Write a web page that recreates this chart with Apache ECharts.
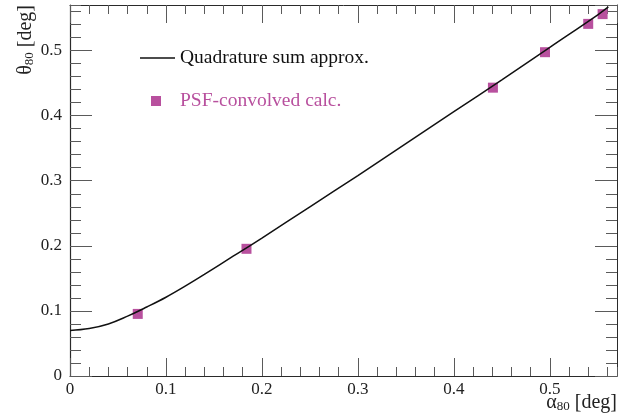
<!DOCTYPE html>
<html>
<head>
<meta charset="utf-8">
<script src="https://cdn.jsdelivr.net/npm/echarts@6/dist/echarts.min.js"></script>
<style>
  html, body { margin: 0; padding: 0; background: #fff; }
  #chart { width: 633px; height: 418px; }
</style>
</head>
<body>
<div id="chart"></div>
<script>
// Quadrature-sum approximation curve (alpha_80 -> theta_80, degrees)
const approxAlpha = [0, 0.02, 0.04, 0.06, 0.08, 0.10, 0.12, 0.14, 0.17, 0.20, 0.25, 0.30, 0.35, 0.40, 0.45, 0.50, 0.55, 0.561];
const approxTheta = [0.070, 0.073, 0.080, 0.092, 0.106, 0.121, 0.138, 0.156, 0.184, 0.212, 0.260, 0.308, 0.357, 0.406, 0.455, 0.505, 0.555, 0.567];

// PSF-convolved calculation points
const calcAlpha = [0.0706, 0.1839, 0.4407, 0.4950, 0.5400, 0.5550];
const calcTheta = [0.0954, 0.1954, 0.4430, 0.4975, 0.5410, 0.5560];

// Axis ranges and tick spacing
const axisMax = 0.57;
const majorStep = 0.1;
const minorStep = 0.02;

const seriesNames = ['Quadrature sum approx.', 'PSF-convolved calc.'];

const FONT = 'Liberation Serif';
const FRAME = '#2a2a2a';
const TICK = '#5a5a5a';
const PINK = '#b8509e';

function fmt(v) { return v === 0 ? '0' : v.toFixed(1); }

function axis(position, step, tickLen, opts) {
  return Object.assign({
    type: 'value',
    position: position,
    offset: 0,
    min: 0,
    max: axisMax,
    interval: step,
    axisLine: { show: false, onZero: false, lineStyle: { color: FRAME, width: 1 } },
    axisTick: { show: true, inside: true, length: tickLen, lineStyle: { color: TICK, width: 1 } },
    axisLabel: { show: false },
    splitLine: { show: false },
    minorTick: { show: false },
    axisPointer: { show: false }
  }, opts || {});
}

const labelStyle = {
  show: true,
  fontFamily: FONT,
  fontSize: 17,
  color: '#222',
  formatter: fmt,
  showMaxLabel: false
};

const nameRich = {
  g: { fontFamily: FONT, fontSize: 20, color: '#222' },
  s: { fontFamily: FONT, fontSize: 13, color: '#222', verticalAlign: 'bottom' }
};

const chart = echarts.init(document.getElementById('chart'), null, { renderer: 'canvas' });

chart.setOption({
  animation: false,
  backgroundColor: '#fff',
  grid: { left: 70, right: 16, top: 5, bottom: 42, containLabel: false },
  xAxis: [
    axis('bottom', majorStep, 18, {
      axisLine: { show: true, onZero: false, lineStyle: { color: FRAME, width: 1.2 } },
      axisLabel: Object.assign({ margin: 5 }, labelStyle),
      name: '{g|α}{s|80}{g| [deg]}',
      nameLocation: 'end',
      nameGap: 0,
      nameMoveOverlap: false,
      nameTextStyle: { align: 'right', verticalAlign: 'top', padding: [17, 0, 0, 0], rich: nameRich }
    }),
    axis('bottom', minorStep, 9),
    axis('top', majorStep, 18, { axisLine: { show: true, onZero: false, lineStyle: { color: FRAME, width: 1 } } }),
    axis('top', minorStep, 9)
  ],
  yAxis: [
    axis('left', majorStep, 22, {
      axisLine: { show: true, onZero: false, lineStyle: { color: FRAME, width: 1.2 } },
      axisLabel: Object.assign({ margin: 8 }, labelStyle),
      name: '{g|θ}{s|80}{g| [deg]}',
      nameLocation: 'end',
      nameGap: 0,
      nameRotate: 90,
      nameMoveOverlap: false,
      nameTextStyle: { align: 'right', verticalAlign: 'bottom', padding: [0, 0, 34, 0], rich: nameRich }
    }),
    axis('left', minorStep, 11),
    axis('right', majorStep, 22, { axisLine: { show: true, onZero: false, lineStyle: { color: FRAME, width: 1 } } }),
    axis('right', minorStep, 11)
  ],
  legend: [
    {
      left: 140, top: 48, padding: 0,
      itemWidth: 35, itemHeight: 10,
      symbolKeepAspect: true,
      selectedMode: false,
      icon: 'path://M0,0H35V1.5H0Z',
      textStyle: { fontFamily: FONT, fontSize: 19.5 },
      data: [{ name: seriesNames[0], textStyle: { color: '#111' } }]
    },
    {
      left: 151, top: 91, padding: 0,
      itemWidth: 10, itemHeight: 10,
      selectedMode: false,
      icon: 'rect',
      textStyle: { fontFamily: FONT, fontSize: 19.5, padding: [0, 0, 0, 14] },
      data: [{ name: seriesNames[1], textStyle: { color: PINK } }]
    }
  ],
  series: [
    {
      name: seriesNames[0],
      type: 'line',
      xAxisIndex: 0,
      yAxisIndex: 0,
      data: approxAlpha.map((a, i) => [a, approxTheta[i]]),
      smooth: 0.4,
      symbol: 'none',
      lineStyle: { color: '#111', width: 1.5 },
      itemStyle: { color: '#111' },
      z: 3
    },
    {
      name: seriesNames[1],
      type: 'scatter',
      xAxisIndex: 0,
      yAxisIndex: 0,
      data: calcAlpha.map((a, i) => [a, calcTheta[i]]),
      symbol: 'rect',
      symbolSize: 10,
      itemStyle: { color: PINK, opacity: 1 },
      z: 2
    }
  ]
});
</script>
</body>
</html>
